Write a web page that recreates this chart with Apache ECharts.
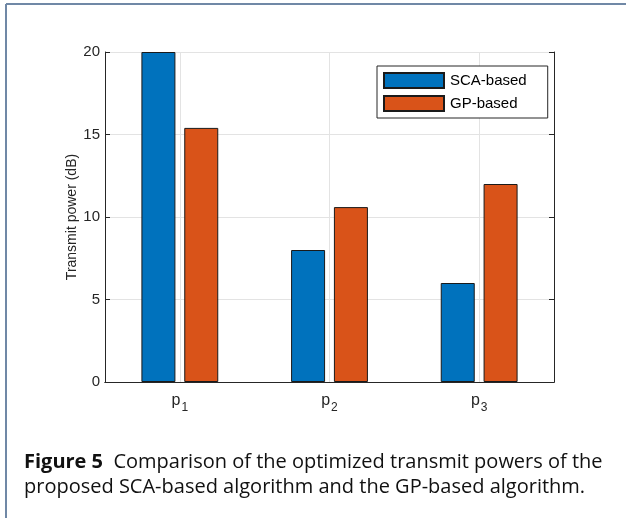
<!DOCTYPE html>
<html><head><meta charset="utf-8">
<script src="https://cdn.jsdelivr.net/npm/echarts@6/dist/echarts.min.js"></script>
<style>html,body{margin:0;padding:0;background:#fff}#c{width:626px;height:518px}</style>
</head><body><div id="c"></div>
<script>
const categories = ['p1', 'p2', 'p3'];
const subscripts = ['1', '2', '3'];
const scaBased = [20, 8, 6];
const gpBased = [15.4, 10.6, 12.0];
const yMin = 0, yMax = 20, yStep = 5;
const seriesNames = ['SCA-based', 'GP-based'];
const yName = 'Transmit power (dB)';
const captionBold = 'Figure 5';
const captionLine1 = 'Comparison of the optimized transmit powers of the';
const captionLine2 = 'proposed SCA-based algorithm and the GP-based algorithm.';

const axisCol = '#262626';
const chart = echarts.init(document.getElementById('c'), null, {renderer: 'canvas'});
const gridDef = {left: 105, top: 52, width: 449, height: 330};
const labelFont = 'Liberation Sans, Arial, Helvetica, sans-serif';

chart.setOption({
  backgroundColor: '#fff',
  animation: false,
  grid: gridDef,
  legend: {
    orient: 'vertical',
    left: 377, top: 66,
    padding: [6, 21, 6, 6],
    itemWidth: 60, itemHeight: 15, itemGap: 6,
    icon: 'rect',
    backgroundColor: '#fff',
    borderColor: axisCol, borderWidth: 1, borderRadius: 0,
    textStyle: {fontFamily: labelFont, fontSize: 15, color: '#000', padding: [0,0,0,1]},
    data: seriesNames
  },
  xAxis: [{
    type: 'category', data: categories, position: 'bottom',
    axisLine: {lineStyle: {color: axisCol, width: 1}},
    axisTick: {inside: true, alignWithLabel: true, length: 5, lineStyle: {color: axisCol}},
    splitLine: {show: true, alignWithLabel: true, lineStyle: {color: '#e3e3e3', width: 1}},
    axisLabel: {
      margin: 11, color: axisCol, fontFamily: labelFont,
      formatter: function (v, i) { return '{p|p}{s|' + subscripts[i] + '}'; },
      rich: {
        p: {fontSize: 16, fontFamily: labelFont, color: axisCol, verticalAlign: 'top', lineHeight: 18},
        s: {fontSize: 12, fontFamily: labelFont, color: axisCol, verticalAlign: 'top', padding: [9, 0, 0, 1], lineHeight: 18}
      }
    }
  }, {
    type: 'category', data: categories, position: 'top',
    axisLine: {lineStyle: {color: axisCol, width: 1}},
    axisTick: {inside: true, alignWithLabel: true, length: 5, lineStyle: {color: axisCol}},
    axisLabel: {show: false}, splitLine: {show: false}
  }],
  yAxis: [{
    type: 'value', min: yMin, max: yMax, interval: yStep, position: 'left',
    name: yName, nameLocation: 'middle', nameGap: 26, nameRotate: 90, nameMoveOverlap: false,
    nameTextStyle: {fontFamily: labelFont, fontSize: 14, color: axisCol},
    axisLine: {show: true, lineStyle: {color: axisCol, width: 1}},
    axisTick: {show: true, inside: true, length: 5, lineStyle: {color: axisCol}},
    axisLabel: {margin: 5, fontFamily: labelFont, fontSize: 15, color: axisCol},
    splitLine: {show: true, lineStyle: {color: '#e3e3e3', width: 1}}
  }, {
    type: 'value', min: yMin, max: yMax, interval: yStep, position: 'right',
    axisLine: {show: true, lineStyle: {color: axisCol, width: 1}},
    axisTick: {show: true, inside: true, length: 5, lineStyle: {color: axisCol}},
    axisLabel: {show: false}, splitLine: {show: false}
  }],
  series: [{
    name: seriesNames[0], type: 'bar', data: scaBased,
    barWidth: 34, barGap: '26%',
    itemStyle: {color: '#0072BD', borderColor: '#1a1a1a', borderWidth: 1}
  }, {
    name: seriesNames[1], type: 'bar', data: gpBased,
    barWidth: 34, barGap: '26%',
    itemStyle: {color: '#D95319', borderColor: '#1a1a1a', borderWidth: 1}
  }],
  graphic: [
    {type: 'line', shape: {x1: 6, y1: 4, x2: 626, y2: 4}, style: {stroke: '#7088a6', lineWidth: 2}, silent: true},
    {type: 'line', shape: {x1: 6, y1: 4, x2: 6, y2: 518}, style: {stroke: '#7088a6', lineWidth: 2}, silent: true},
    {
      type: 'text', left: 24, top: 452,
      style: {
        text: '{b|' + captionBold + '}{n|  ' + captionLine1 + '}\n{n|' + captionLine2 + '}',
        rich: {
          b: {fontFamily: 'Open Sans, sans-serif', fontWeight: 'bold', fontSize: 20, fill: '#111', lineHeight: 25},
          n: {fontFamily: 'Open Sans, sans-serif', fontSize: 20, fill: '#111', lineHeight: 25}
        }
      }
    }
  ]
});
</script></body></html>
